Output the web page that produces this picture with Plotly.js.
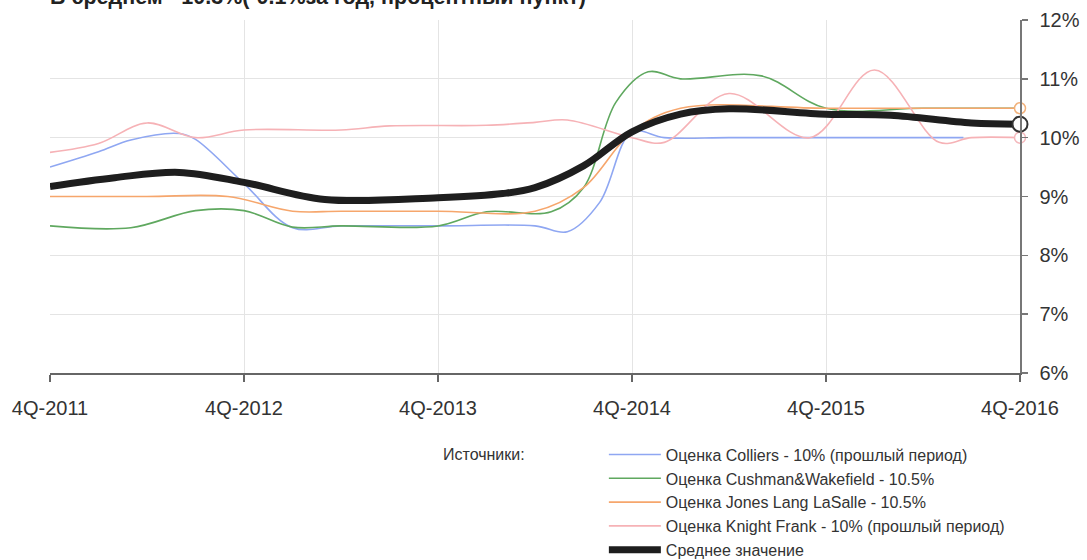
<!DOCTYPE html>
<html>
<head>
<meta charset="utf-8">
<script src="https://cdn.plot.ly/plotly-3.0.1.min.js"></script>
<style>html,body{margin:0;padding:0;background:#fff;}#chart{width:1087px;height:560px;}</style>
</head>
<body>
<div id="chart"></div>
<script>
// x values are months since 4Q-2011
const tickMonths = [0, 12, 24, 36, 48, 60];
const tickLabels = ['4Q-2011', '4Q-2012', '4Q-2013', '4Q-2014', '4Q-2015', '4Q-2016'];

const collierName = 'Оценка Colliers - 10% (прошлый период)';
const collierX = [0, 3, 5, 8, 9, 12, 15, 18, 24, 30, 32, 34, 36, 38, 42, 48, 54, 56.5];
const collierY = [9.5, 9.76, 9.96, 10.07, 9.97, 9.22, 8.47, 8.5, 8.5, 8.5, 8.4, 8.9, 10.1, 10.0, 10.0, 10.0, 10.0, 10.0];

const cushmanName = 'Оценка Cushman&Wakefield - 10.5%';
const cushmanX = [0, 5, 9, 12, 15, 18, 24, 27, 31, 33, 35, 37, 39, 44, 48, 54, 60];
const cushmanY = [8.5, 8.47, 8.76, 8.76, 8.48, 8.5, 8.5, 8.74, 8.74, 9.15, 10.6, 11.12, 11.0, 11.05, 10.5, 10.5, 10.5];

const jllName = 'Оценка Jones Lang LaSalle - 10.5%';
const jllX = [0, 6, 11, 15, 18, 24, 30, 33, 36, 39, 48, 60];
const jllY = [9.0, 9.0, 9.0, 8.75, 8.75, 8.75, 8.75, 9.15, 10.1, 10.5, 10.5, 10.5];

const kfName = 'Оценка Knight Frank - 10% (прошлый период)';
const kfX = [0, 3, 6, 9, 12, 18, 21, 27, 30, 32, 36, 38, 42, 47, 51, 55, 57, 60];
const kfY = [9.75, 9.9, 10.25, 10.0, 10.13, 10.13, 10.2, 10.21, 10.26, 10.3, 10.0, 9.92, 10.75, 10.0, 11.15, 9.92, 10.0, 10.0];

const avgName = 'Среднее значение';
const avgX = [0, 4, 8, 12, 17, 24, 28, 30, 33, 36, 39, 42, 48, 52, 57, 60];
const avgY = [9.17, 9.32, 9.41, 9.24, 8.95, 8.98, 9.05, 9.15, 9.52, 10.1, 10.4, 10.49, 10.4, 10.38, 10.25, 10.23];

// end-point markers (last values)
const endX = [60];
const jllEnd = [10.5];
const avgEnd = [10.23];
const kfEnd = [10.0];

const titleText = 'В среднем ~10.3%(-0.1%за год, процентный пункт)';
const sourcesLabel = 'Источники:';

const cBlue = '#8fa7f2', cGreen = '#5fa85f', cOrange = '#f6a66c', cPink = '#f6b2b6', cBlack = '#1e1e1e';

function line(name, x, y, color, width, group) {
  return {type: 'scatter', mode: 'lines', name: name, x: x, y: y, legendgroup: group,
    line: {color: color, width: width, shape: 'spline', smoothing: 1}, cliponaxis: false, hoverinfo: 'skip'};
}
function endMarker(y, color, size, lw) {
  return {type: 'scatter', mode: 'markers', x: endX, y: y, showlegend: false, cliponaxis: false,
    marker: {symbol: 'circle', size: size, color: '#ffffff', line: {color: color, width: lw}}, hoverinfo: 'skip'};
}

const data = [
  line(collierName, collierX, collierY, cBlue, 1.6, 'a'),
  line(cushmanName, cushmanX, cushmanY, cGreen, 1.6, 'b'),
  line(jllName, jllX, jllY, cOrange, 1.6, 'c'),
  line(kfName, kfX, kfY, cPink, 1.6, 'd'),
  line(avgName, avgX, avgY, cBlack, 7, 'e'),
  endMarker(jllEnd, '#f2b27c', 11, 1.5),
  endMarker(kfEnd, '#f4b8bc', 11, 1.5),
  endMarker(avgEnd, '#333333', 15, 2)
];

const baseFont = '"Liberation Sans", Arial, sans-serif';
const tickFont = {family: baseFont, size: 20, color: '#333'};
const layout = {
  width: 1087, height: 560,
  margin: {l: 50, r: 67, t: 20, b: 187, autoexpand: false},
  paper_bgcolor: '#fff', plot_bgcolor: '#fff',
  showlegend: true,
  legend: {x: 0.571, y: -0.183, xanchor: 'left', yanchor: 'top', orientation: 'v',
    font: {family: baseFont, size: 16, color: '#333'},
    itemwidth: 52, tracegroupgap: 0, bgcolor: 'rgba(0,0,0,0)', traceorder: 'normal'},
  xaxis: {range: [0, 60], tickvals: tickMonths, ticktext: tickLabels, showgrid: true, gridcolor: '#e4e4e4', gridwidth: 1,
    zeroline: false, showline: true, linecolor: '#666', linewidth: 2, ticks: 'outside', ticklen: 7, tickcolor: '#666', tickwidth: 1.5,
    ticklabelstandoff: 9, tickfont: tickFont, fixedrange: true, automargin: false},
  yaxis: {range: [6, 12], side: 'right', dtick: 1, tick0: 6, ticksuffix: '%', showgrid: true, gridcolor: '#e4e4e4', gridwidth: 1,
    zeroline: false, showline: true, linecolor: '#777', linewidth: 1.5, ticks: 'outside', ticklen: 6, tickcolor: '#777', tickwidth: 1.5,
    ticklabelstandoff: 8, tickfont: tickFont, fixedrange: true, automargin: false},
  annotations: [
    {text: '<b>' + titleText + '</b>', xref: 'paper', yref: 'paper', x: -0.002, y: 1.0645, xanchor: 'left', yanchor: 'middle',
      showarrow: false, font: {family: baseFont, size: 21.5, color: '#222'}},
    {text: sourcesLabel, xref: 'paper', yref: 'paper', x: 0.403, y: -0.232, xanchor: 'left', yanchor: 'middle',
      showarrow: false, font: {family: baseFont, size: 16, color: '#333'}}
  ]
};

Plotly.newPlot('chart', data, layout, {displayModeBar: false, staticPlot: true});
</script>
</body>
</html>
